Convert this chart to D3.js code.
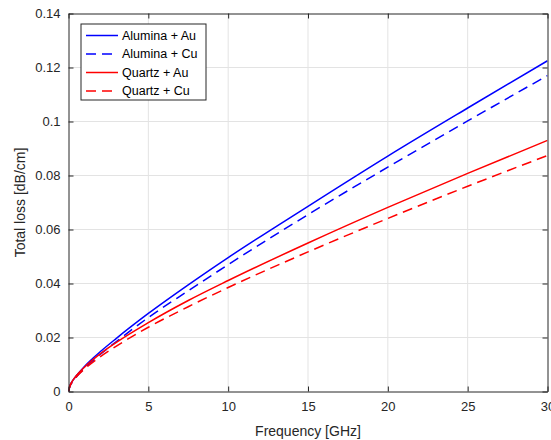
<!DOCTYPE html>
<html>
<head>
<meta charset="utf-8">
<script src="https://cdn.jsdelivr.net/npm/d3@7"></script>
<style>
  body { margin: 0; background: #fff; }
  svg { font-family: "Liberation Sans", Arial, sans-serif; }
  .grid line { stroke: #e3e3e3; stroke-width: 1; }
  .axis path, .axis line { stroke: #262626; }
  .axis text { fill: #262626; font-size: 13px; }
  .label { fill: #262626; font-size: 14px; }
  .legend text { fill: #000; font-size: 12.5px; }
</style>
</head>
<body>
<svg id="chart" width="551" height="440"></svg>
<script>
// frequency points (GHz)
const freq = [0, 0.1, 0.25, 0.5, 1, 2, 3, 5, 7.5, 10, 15, 20, 25, 30];

// total loss values (dB/cm)
const aluminaAu = [0, 0.0023, 0.0039, 0.0059, 0.0093, 0.0148, 0.0197, 0.0289, 0.0395, 0.0496, 0.0686, 0.0872, 0.1050, 0.1225];
const aluminaCu = [0, 0.0021, 0.0036, 0.0055, 0.0086, 0.0138, 0.0185, 0.0274, 0.0373, 0.0470, 0.0655, 0.0831, 0.1002, 0.1170];
const quartzAu = [0, 0.0023, 0.0039, 0.0059, 0.0090, 0.0140, 0.0182, 0.0255, 0.0337, 0.0411, 0.0550, 0.0682, 0.0808, 0.0930];
const quartzCu = [0, 0.0021, 0.0036, 0.0055, 0.0083, 0.0129, 0.0168, 0.0238, 0.0314, 0.0385, 0.0517, 0.0641, 0.0760, 0.0874];

const seriesNames = ['Alumina + Au', 'Alumina + Cu', 'Quartz + Au', 'Quartz + Cu'];
const xTicks = [0, 5, 10, 15, 20, 25, 30];
const yTicks = [0, 0.02, 0.04, 0.06, 0.08, 0.1, 0.12, 0.14];

const series = [
  { name: seriesNames[0], values: aluminaAu, color: '#0000ff', dash: null },
  { name: seriesNames[1], values: aluminaCu, color: '#0000ff', dash: '10,6' },
  { name: seriesNames[2], values: quartzAu, color: '#ff0000', dash: null },
  { name: seriesNames[3], values: quartzCu, color: '#ff0000', dash: '10,6' },
];

const svg = d3.select('#chart');
const mLeft = 68.5, mRight = 547.5, mTop = 13.5, mBottom = 391.5;
const width = mRight - mLeft, height = mBottom - mTop;

const xScale = d3.scaleLinear().domain([0, 30]).range([0, width]);
const yScale = d3.scaleLinear().domain([0, 0.14]).range([height, 0]);

const chart = svg.append('g').attr('transform', `translate(${mLeft}, ${mTop})`);

// grid
chart.append('g').attr('class', 'grid')
  .selectAll('line').data(xTicks.slice(1, -1)).enter().append('line')
  .attr('x1', d => xScale(d)).attr('x2', d => xScale(d))
  .attr('y1', 0).attr('y2', height);
chart.append('g').attr('class', 'grid')
  .selectAll('line').data(yTicks.slice(1, -1)).enter().append('line')
  .attr('y1', d => yScale(d)).attr('y2', d => yScale(d))
  .attr('x1', 0).attr('x2', width);

// lines
const line = d3.line()
  .x((d, i) => xScale(freq[i]))
  .y(d => yScale(d))
  .curve(d3.curveMonotoneX);

chart.append('defs').append('clipPath').attr('id', 'clip')
  .append('rect').attr('width', width).attr('height', height);

chart.append('g').attr('clip-path', 'url(#clip)')
  .selectAll('path').data(series).enter().append('path')
  .attr('d', d => line(d.values))
  .attr('fill', 'none')
  .attr('stroke', d => d.color)
  .attr('stroke-width', 1.5)
  .attr('stroke-dasharray', d => d.dash);

// axes (ticks inside, box on)
const fmt = d => d3.format('~g')(d);
chart.append('g').attr('class', 'axis')
  .attr('transform', `translate(0, ${height})`)
  .call(d3.axisBottom(xScale).tickValues(xTicks).tickSizeInner(-5).tickSizeOuter(0).tickPadding(10).tickFormat(fmt))
  .call(g => g.selectAll('text').attr('dy', '0.71em'));
chart.append('g').attr('class', 'axis')
  .call(d3.axisTop(xScale).tickValues(xTicks).tickSizeInner(-5).tickSizeOuter(0).tickFormat(''));
chart.append('g').attr('class', 'axis')
  .call(d3.axisLeft(yScale).tickValues(yTicks).tickSizeInner(-5).tickSizeOuter(0).tickPadding(8).tickFormat(fmt));
chart.append('g').attr('class', 'axis')
  .attr('transform', `translate(${width}, 0)`)
  .call(d3.axisRight(yScale).tickValues(yTicks).tickSizeInner(-5).tickSizeOuter(0).tickFormat(''));

// labels
svg.append('text').attr('class', 'label')
  .attr('x', mLeft + width / 2).attr('y', 436)
  .attr('text-anchor', 'middle')
  .text('Frequency [GHz]');
svg.append('text').attr('class', 'label')
  .attr('transform', `translate(25, ${mTop + height / 2}) rotate(-90)`)
  .attr('text-anchor', 'middle')
  .text('Total loss [dB/cm]');

// legend
const legend = chart.append('g').attr('class', 'legend').attr('transform', 'translate(12.5, 10.5)');
legend.append('rect')
  .attr('width', 125).attr('height', 76)
  .attr('fill', '#fff').attr('stroke', '#262626').attr('stroke-width', 1);
const items = legend.selectAll('g.item').data(series).enter().append('g')
  .attr('class', 'item')
  .attr('transform', (d, i) => `translate(0, ${11.5 + i * 18.5})`);
items.append('line')
  .attr('x1', 5).attr('x2', 37)
  .attr('stroke', d => d.color).attr('stroke-width', 1.5)
  .attr('stroke-dasharray', d => d.dash);
items.append('text')
  .attr('x', 41).attr('dy', '0.35em')
  .text(d => d.name);
</script>
</body>
</html>
